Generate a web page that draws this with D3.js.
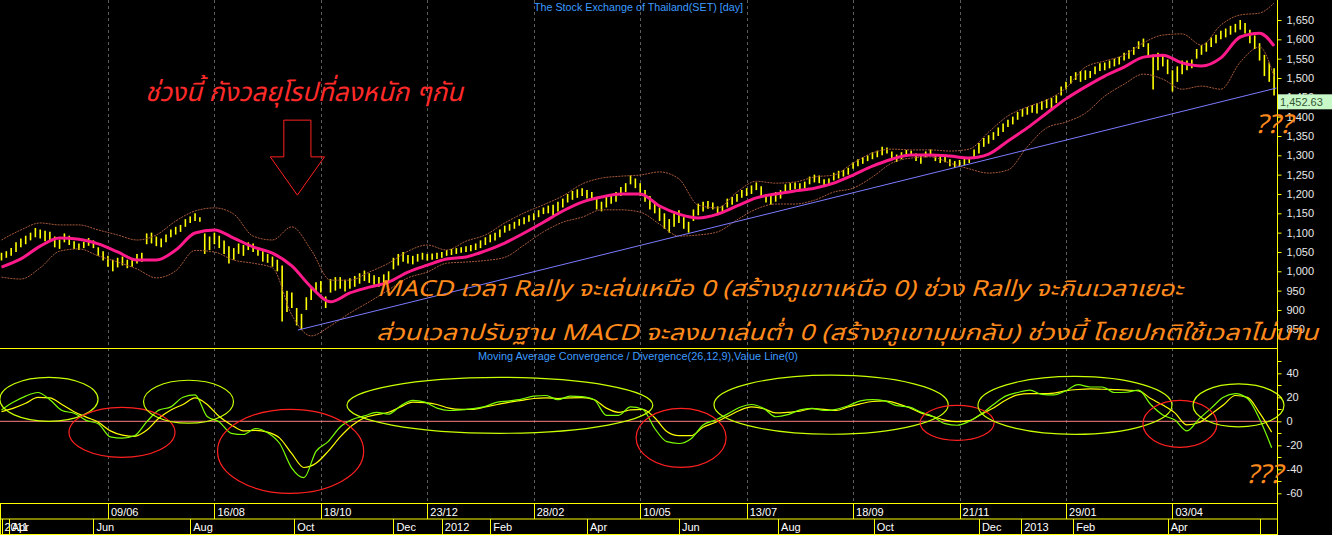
<!DOCTYPE html>
<html>
<head>
  <meta charset="utf-8">
  <style>
    html, body {
      margin: 0;
      overflow: hidden;
      background: #000;
    }
    svg { display: block; }
    text { font-family: Arial, "Liberation Sans", sans-serif; }
    .thai { font-family: "Noto Sans Thai", Tahoma, "DejaVu Sans", sans-serif; font-style: italic; }
  </style>
  <script src="https://cdn.jsdelivr.net/npm/d3@7"></script>
</head>
<body>
  <svg id="chart" width="1332" height="535"></svg>
  <script>
    // one bar every 2 trading days, day index = 2*k
    var barLow = [1028,1035,1040,1050,1062,1070,1080,1088,1085,1078,1080,1062,1058,1075,1068,1058,1055,1060,1066,1060,
      1040,1028,1012,1000,1010,1015,1008,1012,1020,1025,1070,1072,1065,1062,1075,1088,1095,1102,1115,1125,
      1130,1128,1045,1055,1070,1060,1045,1020,1030,1045,1040,1055,1050,1040,1025,1022,1012,1000,870,895,
      905,860,850,900,926,944,945,905,945,950,955,948,955,960,968,975,970,965,960,962,
      975,1005,1015,1025,1020,1018,1025,1030,1028,1030,1032,1035,1040,1042,1045,1048,1050,1052,1055,1060,
      1068,1075,1080,1088,1100,1105,1110,1118,1122,1128,1132,1140,1148,1150,1145,1155,1165,1178,1185,1190,
      1195,1188,1185,1160,1155,1165,1175,1180,1195,1205,1225,1215,1195,1180,1160,1150,1130,1110,1100,1115,
      1125,1110,1100,1130,1145,1155,1162,1160,1145,1150,1165,1172,1180,1190,1195,1200,1210,1195,1178,1172,
      1180,1188,1205,1210,1212,1210,1215,1225,1230,1228,1218,1222,1235,1240,1245,1250,1265,1272,1278,1285,
      1290,1295,1300,1305,1290,1283,1290,1298,1300,1285,1278,1295,1300,1285,1280,1282,1272,1268,1270,1275,
      1280,1295,1305,1322,1330,1340,1350,1360,1373,1380,1392,1400,1405,1410,1408,1418,1422,1415,1435,1455,
      1470,1485,1495,1490,1495,1500,1510,1518,1520,1525,1530,1535,1545,1550,1560,1575,1580,1555,1470,1520,
      1530,1510,1465,1490,1510,1520,1525,1550,1560,1568,1580,1590,1600,1605,1612,1618,1625,1615,1590,1575,
      1545,1505,1490,1455];
    var barHigh = [1048,1052,1060,1075,1085,1092,1100,1112,1108,1105,1102,1090,1082,1098,1092,1078,1072,1076,1086,1080,
      1062,1052,1040,1030,1035,1038,1030,1034,1045,1048,1098,1100,1090,1085,1095,1108,1115,1120,1135,1142,
      1150,1140,1098,1090,1100,1092,1080,1065,1060,1072,1068,1075,1072,1062,1052,1045,1038,1030,1015,950,
      945,905,890,933,957,972,975,935,980,985,985,978,982,988,995,1002,995,990,985,992,
      1000,1035,1045,1050,1042,1040,1045,1048,1045,1046,1048,1050,1055,1058,1060,1062,1065,1068,1072,1080,
      1088,1095,1100,1108,1118,1122,1128,1135,1140,1145,1150,1158,1165,1170,1172,1180,1188,1200,1208,1212,
      1215,1210,1205,1190,1180,1195,1200,1205,1218,1228,1248,1240,1228,1210,1195,1180,1165,1150,1135,1150,
      1158,1140,1128,1160,1175,1180,1182,1178,1168,1170,1188,1192,1200,1210,1215,1222,1230,1220,1200,1198,
      1205,1210,1225,1228,1230,1228,1232,1245,1250,1248,1238,1240,1255,1260,1262,1268,1282,1290,1295,1300,
      1308,1312,1322,1320,1310,1302,1308,1314,1312,1305,1298,1310,1315,1300,1298,1296,1290,1285,1288,1292,
      1295,1315,1332,1345,1352,1360,1372,1382,1392,1400,1412,1420,1425,1430,1435,1440,1445,1448,1455,1478,
      1490,1505,1515,1518,1520,1518,1530,1538,1540,1545,1550,1555,1565,1572,1580,1595,1602,1590,1560,1565,
      1560,1548,1520,1530,1545,1545,1548,1575,1585,1592,1605,1612,1622,1628,1635,1640,1650,1642,1625,1610,
      1590,1560,1540,1525];

    // moving average and bands, one value every 8 trading days (last at day 526)
    var maVals = [1011,1032,1065,1086,1083,1071,1050,1029,1029,1055,1099,1107,1086,1063,1047,1014,959,921,944,959,
      972,998,1016,1032,1037,1053,1073,1099,1127,1156,1179,1192,1200,1200,1169,1148,1138,1148,1169,1190,
      1200,1208,1215,1228,1249,1272,1290,1301,1301,1298,1293,1303,1337,1371,1409,1446,1477,1505,1528,1554,
      1559,1539,1531,1552,1606,1616,1583];
    var upperVals = [1081,1107,1125,1120,1120,1107,1094,1081,1094,1130,1156,1164,1148,1091,1081,1115,1055,977,977,998,
      1021,1052,1068,1055,1078,1094,1125,1151,1172,1195,1226,1241,1246,1249,1257,1239,1171,1164,1205,1233,
      1228,1231,1244,1249,1280,1306,1316,1314,1314,1311,1316,1360,1402,1425,1443,1474,1528,1544,1559,1591,
      1611,1614,1585,1637,1663,1668,1694];
    var lowerVals = [985,980,1009,1052,1058,1040,1024,1006,983,1001,1054,1050,1029,1021,1009,887,833,859,892,921,
      952,983,998,1021,1024,1028,1036,1068,1102,1127,1140,1159,1159,1153,1122,1091,1094,1102,1133,1161,
      1174,1174,1184,1205,1215,1244,1280,1293,1296,1280,1265,1254,1262,1322,1371,1386,1409,1453,1484,1510,
      1497,1471,1479,1471,1541,1580,1503];
    var bandDays = d3.range(0, 521, 8).concat([526]);

    // MACD(26,12,9), one value every 5 trading days
    var macdVals = [9.5,16,21,24,18,9,6.7,0.8,-2,-13,
      -14,-12,-0.5,9.3,12,20,22,4,-0.5,-10,
      -11,-6,-9.5,-18.5,-39,-47,-25,-17,-4.7,1.5,
      4.5,7.5,6,13,17.5,16,11,9,9.5,10.5,
      12.5,16,17,18.5,21,21.5,18,21,20.5,18,
      5,5,12,10,-6,-17,-18.5,-14.5,-3,1,
      6,11.5,14,10.8,3.8,5.5,9.5,10.8,9,10,
      13,17,18,17,13,12,7.8,4,-2,-3.3,
      0,6,14,21,24,26,22.5,22,25.5,30.5,
      28.6,28.6,24,24.2,26,14,5.3,1,-8,2,
      11,20,23,19,2,-22];
    var signalVals = [8,11,15,20,19.5,14,8,3.5,-0.8,-8,
      -11.5,-12.5,-7.5,2.5,9.5,14,19.5,14,4,-3,
      -8,-7.5,-9,-14,-27,-38.5,-35,-25,-13,-3.3,
      3,5.5,7.5,12,16,15.5,14,11,10,10,
      12,14,16,17.5,19,19.5,19,19.5,19.7,18,
      11,7.5,9.5,10,3,-8.5,-12,-12,-5,-1,
      4,9,12,10.5,7,7.5,8.5,10.5,10,9,
      12,14.5,16.5,17,15,11.5,7,4,1,-0.3,
      0.5,6,11,17.5,22,23,23,23.5,25.5,26.5,
      27,26.7,26.4,26,25.3,19,13.5,7,-3,-1,
      6,13.5,21.5,20,7,-9];
    var macdDays = d3.range(0, 526, 5);

    var lastPrice = 1452.63;
    var trendDays = [122.5, 527];
    var trendVals = [848, 1474];

    var dateTicks = ["09/06","16/08","18/10","23/12","28/02","10/05","13/07","18/09","21/11","29/01","03/04"];
    var dateTickDays = [44,88,132,176,220,264,308,352,396,440,484];
    var monthLabels = ["2011","Apr","Jun","Aug","Oct","Dec","2012","Feb","Apr","Jun","Aug","Oct","Dec","2013","Feb","Apr",""];
    var monthDays = [0,3,38,78,121,162,182,202,242,280,321,360.5,404,421.5,443,482,520];

    var priceTicks = d3.range(850, 1651, 50);
    var macdTicks = [-60,-40,-20,0,20,40];
    var macdMinor = [-50,-30,-10,10,30,50];

    // hand drawn ellipses on the MACD panel: [day, value, radius in days, radius in value, up?]
    var ellipses = [
      [19.6, 18.3, 20.3, 18.3, 1],
      [49.8, -9.2, 21.9, 20.8, 0],
      [77.3, 16.3, 18.6, 17.9, 1],
      [119.5, -25, 30.2, 35, 0],
      [206, 13.3, 63.2, 23.3, 1],
      [280.9, -13.8, 18.6, 24.6, 0],
      [342.9, 13.8, 48.4, 24.6, 1],
      [395, -1.3, 15.3, 14.6, 0],
      [443.7, 13.3, 40.1, 24.2, 1],
      [487.1, -2.1, 15.3, 19.6, 0],
      [511.3, 13.3, 18.8, 17.9, 1]
    ];
    // down arrow: day, top, neck, tip (price), half shaft & half head width (days)
    var arrow = {day: 122.3, top: 1391, neck: 1296, tip: 1197, shaft: 5.6, head: 11.2};

    var W = 1332, H = 535, axisX = 1277;
    var x = d3.scaleLinear().domain([0, 527]).range([1.5, 1276.5]);
    var y = d3.scaleLinear().domain([850, 1650]).range([329.3, 20]);
    var ym = d3.scaleLinear().domain([-60, 40]).range([493.3, 373.3]);

    var svg = d3.select("#chart");
    svg.append("rect").attr("width", W).attr("height", H).attr("fill", "#000");

    // vertical grid
    svg.append("g").selectAll("line").data(dateTickDays).enter().append("line")
      .attr("x1", function(d){ return Math.round(x(d)) + 0.5; })
      .attr("x2", function(d){ return Math.round(x(d)) + 0.5; })
      .attr("y1", 0).attr("y2", 503)
      .attr("stroke", "#5c5c5c").attr("stroke-dasharray", "3,3");

    // price bars
    var bars = svg.append("g");
    bars.selectAll("line").data(barHigh).enter().append("line")
      .attr("x1", function(d, i){ return x(i * 2); })
      .attr("x2", function(d, i){ return x(i * 2); })
      .attr("y1", function(d){ return y(d); })
      .attr("y2", function(d, i){ return y(barLow[i]); })
      .attr("stroke", "#ffff00").attr("stroke-width", 1.6);

    function bandLine(vals){
      return d3.line()
        .x(function(d, i){ return x(bandDays[i]); })
        .y(function(d){ return y(d); })
        .curve(d3.curveMonotoneX)(vals);
    }
    svg.append("path").attr("d", bandLine(upperVals))
      .attr("fill", "none").attr("stroke", "#a85a3c").attr("stroke-width", 1).attr("stroke-dasharray", "2,1");
    svg.append("path").attr("d", bandLine(lowerVals))
      .attr("fill", "none").attr("stroke", "#a85a3c").attr("stroke-width", 1).attr("stroke-dasharray", "2,1");
    svg.append("path").attr("d", bandLine(maVals))
      .attr("fill", "none").attr("stroke", "#ff1a8c").attr("stroke-width", 3);

    // trend line
    svg.append("line")
      .attr("x1", x(trendDays[0])).attr("y1", y(trendVals[0]))
      .attr("x2", x(trendDays[1])).attr("y2", y(trendVals[1]))
      .attr("stroke", "#7b7bff").attr("stroke-width", 1);

    // panel separators
    svg.append("line").attr("x1", 0).attr("x2", axisX).attr("y1", 348.5).attr("y2", 348.5)
      .attr("stroke", "#ffff00");

    // MACD panel
    svg.append("line").attr("x1", 0).attr("x2", axisX).attr("y1", ym(0)).attr("y2", ym(0))
      .attr("stroke", "#ff8080");
    function macdLine(vals){
      return d3.line()
        .x(function(d, i){ return x(macdDays[i]); })
        .y(function(d){ return ym(d); })
        .curve(d3.curveMonotoneX)(vals);
    }
    svg.append("path").attr("d", macdLine(signalVals))
      .attr("fill", "none").attr("stroke", "#ffff00").attr("stroke-width", 1.2);
    svg.append("path").attr("d", macdLine(macdVals))
      .attr("fill", "none").attr("stroke", "#7cfc00").attr("stroke-width", 1.2);

    svg.append("g").selectAll("ellipse").data(ellipses).enter().append("ellipse")
      .attr("cx", function(d){ return x(d[0]); })
      .attr("cy", function(d){ return ym(d[1]); })
      .attr("rx", function(d){ return x(d[0] + d[2]) - x(d[0]); })
      .attr("ry", function(d){ return ym(d[1] - d[3]) - ym(d[1]); })
      .attr("fill", "none")
      .attr("stroke", function(d){ return d[4] ? "#c8ff00" : "#ff2020"; })
      .attr("stroke-width", 1.2);

    svg.append("text").attr("x", 478).attr("y", 360)
      .attr("fill", "#3d9bff").attr("font-size", "11px")
      .attr("textLength", 320).attr("lengthAdjust", "spacingAndGlyphs")
      .text("Moving Average Convergence / Divergence(26,12,9),Value Line(0)");
    svg.append("text").attr("x", 534).attr("y", 11)
      .attr("fill", "#3d9bff").attr("font-size", "11px")
      .attr("textLength", 209).attr("lengthAdjust", "spacingAndGlyphs")
      .text("The Stock Exchange of Thailand(SET) [day]");

    // time axis rows
    var rows = svg.append("g").attr("stroke", "#ffff00");
    [503.5, 519, 534.5].forEach(function(v){
      rows.append("line").attr("x1", 0).attr("x2", axisX).attr("y1", v).attr("y2", v);
    });
    rows.append("line").attr("x1", 0.5).attr("x2", 0.5).attr("y1", 503.5).attr("y2", 535);
    rows.selectAll(".dsep").data(dateTickDays).enter().append("line")
      .attr("x1", function(d){ return Math.round(x(d)) + 0.5; })
      .attr("x2", function(d){ return Math.round(x(d)) + 0.5; })
      .attr("y1", 503.5).attr("y2", 519);
    rows.selectAll(".msep").data(monthDays).enter().append("line")
      .attr("x1", function(d){ return Math.round(x(d)) + 0.5; })
      .attr("x2", function(d){ return Math.round(x(d)) + 0.5; })
      .attr("y1", 519).attr("y2", 535);

    svg.append("g").selectAll("text").data(dateTicks).enter().append("text")
      .attr("x", function(d, i){ return x(dateTickDays[i]) + 3; })
      .attr("y", 515.5).attr("fill", "#fff").attr("font-size", "11px")
      .text(function(d){ return d; });
    svg.append("g").selectAll("text").data(monthLabels).enter().append("text")
      .attr("x", function(d, i){ return x(monthDays[i]) + 3; })
      .attr("y", 531).attr("fill", "#fff").attr("font-size", "11px")
      .text(function(d){ return d; });

    // right axes
    svg.append("line").attr("x1", axisX + 0.5).attr("x2", axisX + 0.5).attr("y1", 0).attr("y2", H)
      .attr("stroke", "#ffff00");
    var pAxis = svg.append("g").attr("transform", "translate(" + (axisX + 0.5) + ",0)")
      .call(d3.axisRight(y).tickValues(priceTicks).tickSize(4).tickPadding(5).tickFormat(d3.format(",")));
    var mAxis = svg.append("g").attr("transform", "translate(" + (axisX + 0.5) + ",0)")
      .call(d3.axisRight(ym).tickValues(macdTicks).tickSize(4).tickPadding(5).tickFormat(function(d){ return String(d); }));
    [pAxis, mAxis].forEach(function(a){
      a.select(".domain").remove();
      a.selectAll("line").attr("stroke", "#ffff00");
      a.selectAll("text").attr("fill", "#e8e8e8").attr("font-size", "11px")
        .attr("font-family", "Arial, 'Liberation Sans', sans-serif");
    });
    svg.append("g").selectAll("line").data(macdMinor).enter().append("line")
      .attr("x1", axisX + 0.5).attr("x2", axisX + 4.5)
      .attr("y1", function(d){ return Math.round(ym(d)) + 0.5; })
      .attr("y2", function(d){ return Math.round(ym(d)) + 0.5; })
      .attr("stroke", "#ffff00");

    // last price box, drawn over the axis label it covers
    svg.append("rect").attr("x", axisX + 1).attr("y", y(lastPrice) - 2)
      .attr("width", W - axisX - 1).attr("height", 15).attr("fill", "#c8f8c8");
    svg.append("text").attr("x", axisX + 3).attr("y", y(lastPrice) + 9.5)
      .attr("fill", "#335533").attr("font-size", "11px").text(d3.format(",.2f")(lastPrice));

    // annotations
    var a = arrow;
    var arrowPts = [[a.day - a.shaft, a.top], [a.day + a.shaft, a.top], [a.day + a.shaft, a.neck],
      [a.day + a.head, a.neck], [a.day, a.tip], [a.day - a.head, a.neck], [a.day - a.shaft, a.neck]];
    svg.append("path")
      .attr("d", d3.line().x(function(d){ return x(d[0]); }).y(function(d){ return y(d[1]); })(arrowPts) + "Z")
      .attr("fill", "none").attr("stroke", "#ff2020").attr("stroke-width", 1);

    svg.append("text").attr("class", "thai").attr("x", 145).attr("y", 101)
      .attr("fill", "#ff2a2a").attr("font-size", "26px")
      .attr("textLength", 318).attr("lengthAdjust", "spacingAndGlyphs")
      .text("ช่วงนี้ กังวลยุโรปที่ลงหนัก ๆกัน");

    var orange = "#ff8a1c";
    svg.append("text").attr("class", "thai").attr("x", 377).attr("y", 296)
      .attr("fill", orange).attr("font-size", "22px")
      .attr("textLength", 806).attr("lengthAdjust", "spacingAndGlyphs")
      .text("MACD เวลา Rally จะเล่นเหนือ 0 (สร้างภูเขาเหนือ 0) ช่วง Rally จะกินเวลาเยอะ");
    svg.append("text").attr("class", "thai").attr("x", 376).attr("y", 340)
      .attr("fill", orange).attr("font-size", "22px")
      .attr("textLength", 942).attr("lengthAdjust", "spacingAndGlyphs")
      .text("ส่วนเวลาปรับฐาน MACD จะลงมาเล่นต่ำ 0 (สร้างภูเขามุมกลับ) ช่วงนี้ โดยปกติใช้เวลาไม่นาน");
    svg.append("text").attr("class", "thai").attr("x", 1255).attr("y", 133)
      .attr("fill", orange).attr("font-size", "26px")
      .attr("textLength", 37).attr("lengthAdjust", "spacingAndGlyphs").text("???");
    svg.append("text").attr("class", "thai").attr("x", 1246).attr("y", 483)
      .attr("fill", orange).attr("font-size", "26px")
      .attr("textLength", 36).attr("lengthAdjust", "spacingAndGlyphs").text("???");
  </script>
</body>
</html>
